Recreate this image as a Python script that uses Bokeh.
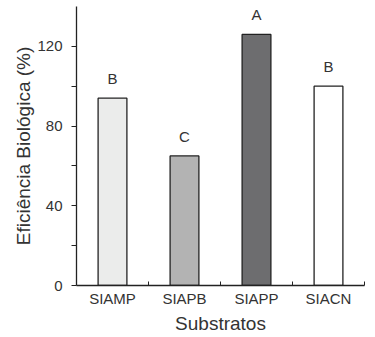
from bokeh.plotting import figure
from bokeh.models import ColumnDataSource, FixedTicker, Range1d
from bokeh.embed import file_html
from bokeh.resources import INLINE
from bokeh.core.properties import value

categories = ["SIAMP", "SIAPB", "SIAPP", "SIACN"]
eficiencia = [94, 65, 126, 100]
letras = ["B", "C", "A", "B"]
cores = ["#ebeceb", "#b3b3b3", "#6d6d6f", "#ffffff"]
y_ticks = [0, 40, 80, 120]
y_minor = [20, 60, 100]

xpos = [i + 0.5 for i in range(len(categories))]
src = ColumnDataSource(dict(x=xpos, top=eficiencia, letra=letras, cor=cores, cat=categories))

FONT = "Liberation Sans"
TXT = "#333333"
p = figure(width=372, height=337, output_backend="svg", toolbar_location=None,
           x_range=Range1d(0, len(categories)), y_range=Range1d(0, 140),
           min_border_left=76, min_border_bottom=52, min_border_top=6, min_border_right=8)
p.outline_line_color = None
p.xgrid.visible = False
p.ygrid.visible = False
p.background_fill_color = None
p.border_fill_color = None

p.vbar(x="x", top="top", width=0.4, bottom=0, fill_color="cor", line_color="#222222",
       line_width=1.3, source=src)
p.text(x="x", y="top", text="letra", y_offset=-11, text_align="center", text_baseline="bottom",
       text_font=value(FONT), text_font_size="15px", text_color=TXT, source=src)

xa = p.xaxis[0]
xa.ticker = FixedTicker(ticks=xpos, minor_ticks=[i + 1 for i in range(len(categories))])
xa.major_label_overrides = {x: c for x, c in zip(xpos, categories)}
xa.major_tick_line_color = None
xa.major_tick_in = 0
xa.major_tick_out = 0
xa.minor_tick_in = 4
xa.minor_tick_out = 0
xa.minor_tick_line_color = "#222222"
xa.axis_line_color = "#222222"
xa.axis_line_width = 1.3
xa.major_label_text_font = FONT
xa.major_label_text_font_size = "15px"
xa.major_label_text_color = TXT
xa.major_label_standoff = 4
xa.axis_label = "Substratos"
xa.axis_label_text_font = FONT
xa.axis_label_text_font_style = "normal"
xa.axis_label_text_font_size = "19px"
xa.axis_label_text_color = TXT
xa.axis_label_standoff = 3

ya = p.yaxis[0]
ya.ticker = FixedTicker(ticks=y_ticks, minor_ticks=y_minor)
ya.major_tick_in = 0
ya.major_tick_out = 5
ya.minor_tick_in = 0
ya.minor_tick_out = 5
ya.major_tick_line_color = "#222222"
ya.minor_tick_line_color = "#222222"
ya.axis_line_color = "#222222"
ya.axis_line_width = 1.3
ya.major_label_text_font = FONT
ya.major_label_text_font_size = "15px"
ya.major_label_text_color = TXT
ya.major_label_standoff = 9
ya.axis_label = "Eficiência Biológica (%)"
ya.axis_label_text_font = FONT
ya.axis_label_text_font_style = "normal"
ya.axis_label_text_font_size = "19px"
ya.axis_label_text_color = TXT
ya.axis_label_standoff = 0

open("out.html", "w").write(file_html(p, INLINE))
